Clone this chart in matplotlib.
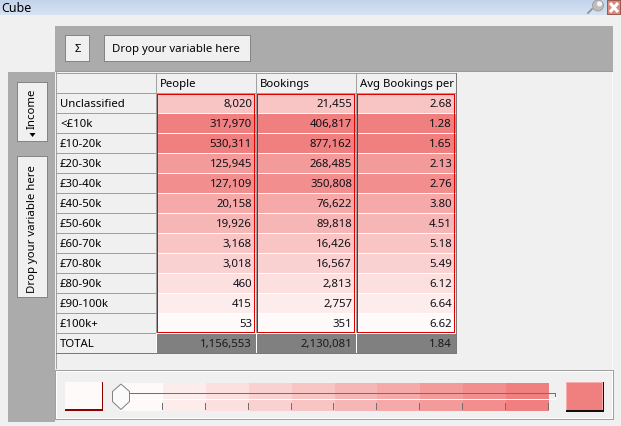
import numpy as np
import matplotlib
matplotlib.use("Agg")
import matplotlib.pyplot as plt
from matplotlib.patches import Rectangle, Polygon

plt.rcParams['font.family'] = ['Noto Sans', 'DejaVu Sans']

# ------------------------------- DATA ---------------------------------------
income_bands = ["Unclassified", "<£10k", "£10-20k", "£20-30k", "£30-40k",
                "£40-50k", "£50-60k", "£60-70k", "£70-80k", "£80-90k",
                "£90-100k", "£100k+"]
people = [8020, 317970, 530311, 125945, 127109, 20158, 19926,
          3168, 3018, 460, 415, 53]
bookings = [21455, 406817, 877162, 268485, 350808, 76622, 89818,
            16426, 16567, 2813, 2757, 351]
avg_bookings = [2.68, 1.28, 1.65, 2.13, 2.76, 3.80, 4.51,
                5.18, 5.49, 6.12, 6.64, 6.62]
totals = [1156553, 2130081, 1.84]
column_names = ["People", "Bookings", "Avg Bookings per"]
# colour bin of each row (0 = lightest, 9 = darkest)
shade_level = [4, 9, 9, 7, 8, 6, 5, 4, 3, 2, 1, 0]
n_bins = 10

# ------------------------------- STYLE --------------------------------------
BG = "#F0F0F0"
BAND = "#ABABAB"
GRID = "#A0A0A0"
RED = "#E00000"
LOW = np.array([255, 250, 250]) / 255
HIGH = np.array([240, 128, 128]) / 255
bin_colors = [LOW + (HIGH - LOW) * i / (n_bins - 1) for i in range(n_bins)]

FS = 8.2
COL_W = 100
ROW_H = 20
TABLE_X = 56
TABLE_Y = 74

fig = plt.figure(figsize=(6.21, 4.27), dpi=100)
ax = fig.add_axes([0, 0, 1, 1])
ax.set_xlim(0, 621)
ax.set_ylim(427, 0)
ax.axis("off")
fig.patch.set_facecolor(BG)


def fill(x0, y0, x1, y1, color, **kw):
    r = Rectangle((x0, y0), x1 - x0, y1 - y0, facecolor=color,
                  edgecolor="none", antialiased=False, **kw)
    ax.add_patch(r)
    return r


def hline(x0, x1, y, color):
    fill(x0, y, x1, y + 1, color)


def vline(x, y0, y1, color):
    fill(x, y0, x + 1, y1, color)


def box(x0, y0, x1, y1, face, edge):
    fill(x0, y0, x1, y1, edge)
    fill(x0 + 1, y0 + 1, x1 - 1, y1 - 1, face)


# ------------------------------- TITLE BAR ----------------------------------
grad = np.linspace(0, 1, 16)[:, None, None]
top_c = np.array([0.76, 0.83, 0.92])
bot_c = np.array([0.84, 0.89, 0.95])
title_img = (top_c + (bot_c - top_c) * grad) * np.ones((1, 621, 1))
ax.imshow(title_img, extent=[0, 621, 16, 0], aspect="auto",
          interpolation="nearest", zorder=0)
ax.text(1, 8, "Cube", fontsize=9, va="center", ha="left", color="black")
# pin + close icons
ax.plot([592, 588], [10, 14], color="#8C8C8C", lw=1.2)
ax.add_patch(plt.Circle((598, 6.5), 5.5, facecolor="#BDBDBD",
                        edgecolor="#9A9A9A", lw=0.6))
ax.add_patch(plt.Circle((599.5, 4.8), 2.6, facecolor="#F4F4F4",
                        edgecolor="none"))
box(607, 1, 621, 16, "#D9897E", "#9E5A52")
ax.plot([610, 618], [4, 13], color="white", lw=2.2, solid_capstyle="butt")
ax.plot([618, 610], [4, 13], color="white", lw=2.2, solid_capstyle="butt")

# ------------------------------- DROP ZONES ---------------------------------
fill(55, 27, 613, 73, BAND)
hline(55, 613, 72, "#9A9A9A")
fill(8, 73, 55, 423, BAND)

box(65, 36, 90, 63, BG, "#858585")
ax.text(77.5, 49.5, "Σ", fontsize=FS, ha="center", va="center")
box(104, 36, 251, 63, BG, "#858585")
ax.text(112, 49.5, "Drop your variable here", fontsize=FS,
        ha="left", va="center")

box(17, 83, 48, 143, BG, "#858585")
ax.text(32.5, 109, "Income", fontsize=FS, rotation=90,
        ha="center", va="center")
ax.add_patch(Polygon([(29.5, 134), (35.5, 134), (32.5, 138)],
                     closed=True, facecolor="black", edgecolor="none"))
box(17, 157, 48, 299, BG, "#858585")
ax.text(32.5, 229, "Drop your variable here", fontsize=FS, rotation=90,
        ha="center", va="center")

# ------------------------------- TABLE --------------------------------------
n_rows = len(income_bands)
table_right = TABLE_X + COL_W * (len(column_names) + 1)
body_top = TABLE_Y + ROW_H
body_bottom = body_top + ROW_H * n_rows
total_bottom = body_bottom + ROW_H

# panel around table
vline(TABLE_X, 73, 370, GRID)
vline(612, 73, 371, "#FAFAFA")

# header row and label column
fill(TABLE_X, TABLE_Y, table_right, total_bottom, BG)
hline(TABLE_X, table_right, TABLE_Y, GRID)
for i in range(n_rows + 2):
    hline(TABLE_X, TABLE_X + COL_W, TABLE_Y + ROW_H * (i + 1), GRID)
hline(TABLE_X, table_right, body_top, GRID)
for j in range(len(column_names) + 1):
    vline(TABLE_X + COL_W * j, TABLE_Y, total_bottom, GRID)
for j, name in enumerate(column_names):
    x0 = TABLE_X + COL_W * (j + 1)
    t = ax.text(x0 + 4, TABLE_Y + ROW_H / 2 + 0.5, name, fontsize=FS,
                ha="left", va="center")
    t.set_clip_path(Rectangle((x0, TABLE_Y), COL_W - 1, ROW_H,
                              transform=ax.transData))
for i, label in enumerate(income_bands + ["TOTAL"]):
    ax.text(TABLE_X + 4, body_top + ROW_H * i + ROW_H / 2 + 0.5, label,
            fontsize=FS, ha="left", va="center")

# data cells
columns = [people, bookings, avg_bookings]
formats = ["{:,}", "{:,}", "{:.2f}"]
for j, (values, fmt) in enumerate(zip(columns, formats)):
    x0 = TABLE_X + COL_W * (j + 1)
    fill(x0 + 1, body_top + 1, x0 + COL_W, body_bottom, "white")
    for i, v in enumerate(values):
        y0 = body_top + ROW_H * i
        fill(x0 + 1, y0 + 1, x0 + COL_W, y0 + ROW_H,
             bin_colors[shade_level[i]])
        ax.text(x0 + COL_W - 4, y0 + ROW_H / 2 + 0.5, fmt.format(v),
                fontsize=FS, ha="right", va="center", color="#101018")
    # red outline around the column body
    hline(x0 + 1, x0 + COL_W - 1, body_top + 1, RED)
    hline(x0 + 1, x0 + COL_W - 1, body_bottom - 1, RED)
    vline(x0 + 1, body_top + 1, body_bottom, RED)
    vline(x0 + COL_W - 2, body_top + 1, body_bottom, RED)
    # total cell
    fill(x0 + 1, body_bottom + 1, x0 + COL_W, total_bottom, "#808080")
    ax.text(x0 + COL_W - 4, body_bottom + ROW_H / 2 + 0.5,
            formats[j].format(totals[j]), fontsize=FS, ha="right",
            va="center", color="#1A1A1A")
    vline(x0, body_bottom, total_bottom, "white")
vline(table_right, TABLE_Y, total_bottom + 1, "#7A7A7A")
hline(TABLE_X, table_right + 1, total_bottom, "#7A7A7A")
hline(TABLE_X + COL_W, table_right, body_bottom, "white")

# ------------------------------- COLOUR LEGEND ------------------------------
fill(55, 371, 614, 421, GRID)
fill(56, 372, 613, 420, "white")
fill(57, 373, 612, 419, BG)

# low / high swatches
fill(65, 383, 103, 412, "#8B0000")
fill(65, 383, 102, 410, bin_colors[0])
fill(566, 383, 604, 413, "#101010")
fill(566, 383, 603, 411, "#F6B0B0")
fill(567, 384, 602, 411, bin_colors[-1])

grad_x0, grad_x1 = 120, 549
edges = np.linspace(grad_x0, grad_x1, n_bins + 1)
for k in range(n_bins):
    fill(edges[k], 384, edges[k + 1], 412, bin_colors[k])
for e in edges[1:]:
    vline(int(round(e)) - 1, 404, 411, "#707070")

# slider track
fill(130, 394, 556, 401, "white")
for k in range(n_bins):
    fill(max(edges[k], 131), 395, min(edges[k + 1], 555), 400, bin_colors[k])
fill(549, 395, 555, 400, BG)
hline(130, 556, 394, "#707070")
vline(555, 394, 398, "#707070")

# slider thumb
thumb = Polygon([(112.5, 392.5), (121, 385), (129.5, 392.5), (129.5, 402.5),
                 (121, 410.5), (112.5, 402.5)], closed=True,
                facecolor="#FAFAFA", edgecolor="#808080", lw=0.7)
ax.add_patch(thumb)

fig.savefig("out.png", dpi=100, facecolor=BG)
plt.close(fig)
